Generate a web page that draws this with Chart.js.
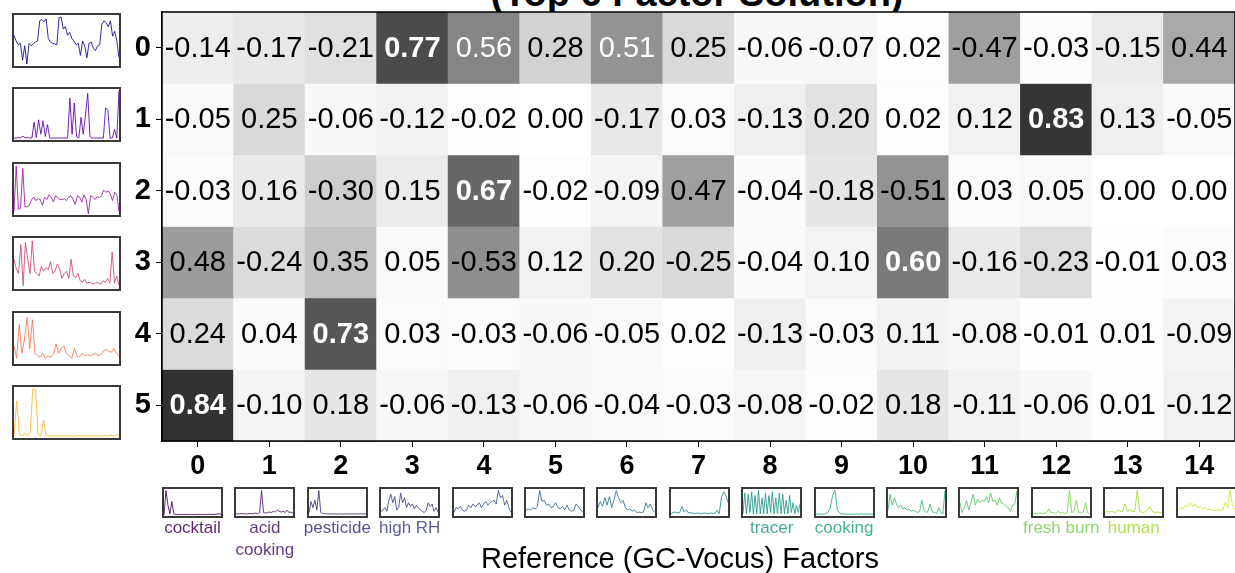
<!DOCTYPE html>
<html lang="en">
<head>
<meta charset="UTF-8">
<title>Factor correlation (Top 6 Factor Solution)</title>
<script src="https://cdn.jsdelivr.net/npm/chart.js@4.4.1/dist/chart.umd.min.js"></script>
<style>
  html, body { margin: 0; padding: 0; background: #fff; overflow: hidden; }
  body { width: 1235px; height: 573px; position: relative; font-family: "Liberation Sans", Arial, sans-serif; }
  .title { position: absolute; top: -26px; left: 347px; width: 700px; text-align: center; font-size: 38px; font-weight: bold; line-height: 38px; white-space: nowrap; }
  .xtitle { position: absolute; top: 542px; left: 330px; width: 700px; text-align: center; font-size: 29px; line-height: 32px; white-space: nowrap; }
  #main { position: absolute; left: 0; top: 0; width: 1235px; height: 573px; }
  .thumb { position: absolute; box-sizing: border-box; border: 2px solid #3a3a3a; background: #fff; }
  .thumb canvas { display: block; }
  .reflabel { position: absolute; top: 517px; width: 110px; text-align: center; font-size: 17px; line-height: 22px; opacity: 0.85; }
</style>
</head>
<body>

<div class="title">(Top 6 Factor Solution)</div>
<div id="main"><canvas id="heat"></canvas></div>
<div class="xtitle">Reference (GC-Vocus) Factors</div>

<script>
// ---- data ----
var rowNames = ['0', '1', '2', '3', '4', '5'];
var colNames = ['0', '1', '2', '3', '4', '5', '6', '7', '8', '9', '10', '11', '12', '13', '14'];

var row0 = [-0.14, -0.17, -0.21, 0.77, 0.56, 0.28, 0.51, 0.25, -0.06, -0.07, 0.02, -0.47, -0.03, -0.15, 0.44];
var row1 = [-0.05, 0.25, -0.06, -0.12, -0.02, 0.00, -0.17, 0.03, -0.13, 0.20, 0.02, 0.12, 0.83, 0.13, -0.05];
var row2 = [-0.03, 0.16, -0.30, 0.15, 0.67, -0.02, -0.09, 0.47, -0.04, -0.18, -0.51, 0.03, 0.05, 0.00, 0.00];
var row3 = [0.48, -0.24, 0.35, 0.05, -0.53, 0.12, 0.20, -0.25, -0.04, 0.10, 0.60, -0.16, -0.23, -0.01, 0.03];
var row4 = [0.24, 0.04, 0.73, 0.03, -0.03, -0.06, -0.05, 0.02, -0.13, -0.03, 0.11, -0.08, -0.01, 0.01, -0.09];
var row5 = [0.84, -0.10, 0.18, -0.06, -0.13, -0.06, -0.04, -0.03, -0.08, -0.02, 0.18, -0.11, -0.06, 0.01, -0.12];
var rows = [row0, row1, row2, row3, row4, row5];

var refLabels = ['cocktail', 'acid<br>cooking', 'pesticide', 'high RH', '', '', '', '', 'tracer', 'cooking', '', '', 'fresh burn', 'human', ''];

// time series thumbnails, solution factors (left)
var sol0 = [0.62, 0.5, 0.42, 0.45, 0.1, 0.4, 0.02, 0.45, 0.4, 0.44, 0.48, 0.5, 0.92, 0.95, 0.9, 0.96, 0.55, 0.48, 0.45, 0.44, 0.42, 0.98, 1.0, 0.75, 0.8, 0.62, 0.68, 0.55, 0.5, 0.42, 0.45, 0.2, 0.5, 0.4, 0.15, 0.45, 0.48, 0.35, 0.3, 0.4, 0.42, 0.85, 0.92, 0.88, 0.8, 0.92, 0.6, 0.7, 0.5, 0.15];
var sol1 = [0.02, 0.02, 0.03, 0.02, 0.06, 0.02, 0.03, 0.02, 0.02, 0.35, 0.03, 0.4, 0.1, 0.38, 0.05, 0.3, 0.02, 0.02, 0.02, 0.02, 0.02, 0.02, 0.02, 0.02, 0.02, 0.85, 0.1, 0.75, 0.05, 0.02, 0.45, 0.1, 0.5, 0.95, 0.05, 0.02, 0.02, 0.02, 0.02, 0.02, 0.02, 0.65, 0.6, 0.02, 0.02, 0.2, 0.02, 1.0];
var sol2 = [0.05, 1.0, 0.1, 0.12, 0.95, 0.15, 0.15, 0.18, 0.3, 0.35, 0.28, 0.32, 0.3, 0.18, 0.35, 0.3, 0.4, 0.35, 0.25, 0.38, 0.34, 0.3, 0.3, 0.32, 0.28, 0.35, 0.38, 0.3, 0.2, 0.38, 0.35, 0.25, 0.4, 0.3, 0.0, 0.38, 0.35, 0.3, 0.36, 0.34, 0.38, 0.5, 0.45, 0.48, 0.42, 0.28, 0.45, 0.4, 0.05];
var sol3 = [0.6, 0.4, 0.3, 0.9, 0.05, 0.95, 0.6, 0.3, 0.98, 0.35, 0.3, 0.25, 0.45, 0.35, 0.42, 0.38, 0.55, 0.3, 0.35, 0.5, 0.4, 0.2, 0.3, 0.35, 0.2, 0.6, 0.25, 0.22, 0.3, 0.15, 0.12, 0.18, 0.1, 0.12, 0.1, 0.08, 0.12, 0.1, 0.08, 0.15, 0.12, 0.2, 0.1, 0.75, 0.1, 0.25, 0.05];
var sol4 = [0.35, 0.1, 0.8, 0.2, 0.5, 0.95, 0.3, 0.9, 0.2, 0.15, 0.12, 0.2, 0.1, 0.15, 0.12, 0.18, 0.4, 0.2, 0.3, 0.35, 0.2, 0.15, 0.1, 0.3, 0.15, 0.12, 0.2, 0.15, 0.17, 0.15, 0.18, 0.2, 0.16, 0.17, 0.25, 0.28, 0.25, 0.22, 0.3, 0.2, 0.15];
var sol5 = [0.02, 0.75, 0.05, 0.02, 0.08, 0.02, 0.1, 1.0, 0.98, 0.05, 0.02, 0.35, 0.02, 0.02, 0.02, 0.02, 0.02, 0.02, 0.02, 0.02, 0.02, 0.02, 0.02, 0.02, 0.03, 0.02, 0.02, 0.02, 0.02, 0.02, 0.02, 0.02, 0.02, 0.02, 0.03, 0.02, 0.04, 0.02, 0.05, 0.02];
var solSeries = [sol0, sol1, sol2, sol3, sol4, sol5];

// time series thumbnails, reference factors (bottom)
var ref0 = [0.0, 1.0, 0.4, 0.05, 0.55, 0.05, 0.02, 0.02, 0.02, 0.03, 0.02, 0.02, 0.02, 0.03, 0.02, 0.02, 0.02, 0.02, 0.03, 0.02, 0.02, 0.02, 0.02, 0.03, 0.02, 0.02, 0.02, 0.04, 0.05, 0.03];
var ref1 = [0.05, 0.04, 0.05, 0.06, 0.05, 0.04, 0.05, 0.06, 0.05, 0.06, 0.08, 0.05, 0.1, 1.0, 0.1, 0.08, 0.1, 0.12, 0.1, 0.15, 0.12, 0.2, 0.15, 0.12, 0.15, 0.1, 0.2, 0.1, 0.12, 0.08];
var ref2 = [0.1, 0.55, 0.3, 0.6, 0.2, 1.0, 0.1, 0.06, 0.05, 0.05, 0.04, 0.05, 0.04, 0.05, 0.04, 0.04, 0.05, 0.04, 0.04, 0.05, 0.04, 0.04, 0.05, 0.04, 0.05, 0.04, 0.05, 0.04, 0.05, 0.04];
var ref3 = [0.15, 0.2, 0.3, 0.15, 0.6, 0.85, 0.5, 0.75, 0.2, 0.3, 0.9, 0.5, 0.7, 0.3, 0.5, 0.35, 0.45, 0.25, 0.4, 0.3, 0.2, 0.15, 0.1, 0.2, 0.5, 0.35, 0.45, 0.15, 0.3, 0.1];
var ref4 = [0.1, 0.3, 0.25, 0.35, 0.2, 0.15, 0.2, 0.4, 0.3, 0.45, 0.35, 0.4, 0.5, 0.3, 0.45, 0.55, 0.4, 0.5, 0.55, 0.6, 0.45, 1.0, 0.7, 0.8, 0.4, 0.6, 0.3, 0.1];
var ref5 = [0.2, 0.25, 0.2, 0.3, 0.25, 0.35, 1.0, 0.55, 0.6, 0.4, 0.45, 0.3, 0.35, 0.5, 0.3, 0.25, 0.35, 0.2, 0.4, 0.2, 0.15, 0.2, 0.45, 0.35, 0.2, 0.1];
var ref6 = [0.3, 0.55, 0.35, 0.7, 0.4, 0.75, 0.3, 0.6, 1.0, 0.7, 0.5, 0.6, 0.3, 0.2, 0.25, 0.15, 0.2, 0.1, 0.12, 0.1, 0.12, 0.5, 0.3, 0.45, 0.2, 0.1];
var ref7 = [0.05, 0.1, 0.12, 0.08, 0.1, 0.35, 0.12, 0.2, 0.08, 0.1, 0.07, 0.06, 0.08, 0.07, 0.06, 0.08, 0.07, 0.06, 0.08, 0.07, 0.06, 0.2, 0.05, 0.7, 0.95, 0.8, 0.5];
var ref8 = [0.05, 0.9, 0.05, 0.85, 0.1, 0.95, 0.05, 0.8, 0.05, 1.0, 0.05, 0.7, 0.05, 0.9, 0.05, 0.8, 0.1, 0.95, 0.05, 0.7, 0.05, 0.9, 0.05, 0.85, 0.05, 0.6, 0.05, 0.8, 0.1, 0.5, 0.05, 0.4, 0.1, 0.45];
var ref9 = [0.05, 0.03, 0.04, 0.03, 0.05, 0.1, 0.3, 0.8, 1.0, 0.2, 0.08, 0.05, 0.03, 0.04, 0.03, 0.04, 0.03, 0.04, 0.03, 0.05, 0.03, 0.04, 0.03, 0.04, 0.03];
var ref10 = [0.2, 0.85, 0.4, 0.7, 0.45, 0.3, 0.4, 0.25, 0.3, 0.2, 0.25, 0.15, 0.2, 0.15, 0.1, 0.15, 0.6, 0.2, 0.1, 0.15, 0.45, 0.12, 0.1, 0.05, 0.3, 0.1, 0.05, 1.0];
var ref11 = [0.5, 0.1, 0.3, 0.6, 0.2, 0.5, 0.85, 0.4, 0.65, 0.5, 0.6, 0.55, 0.75, 0.5, 0.9, 0.55, 0.6, 0.4, 0.7, 0.5, 0.45, 0.35, 0.3, 0.15, 0.4, 0.45, 1.0];
var ref12 = [0.05, 0.06, 0.05, 0.08, 0.05, 0.06, 0.1, 0.25, 0.08, 0.1, 0.06, 0.15, 0.08, 0.1, 0.06, 0.1, 1.0, 0.1, 0.15, 0.6, 0.1, 0.08, 0.12, 0.5, 0.08, 0.05];
var ref13 = [0.1, 0.15, 0.12, 0.15, 0.1, 0.2, 0.15, 0.12, 0.45, 0.15, 0.2, 0.15, 0.12, 1.0, 0.15, 0.1, 0.12, 0.2, 0.35, 0.15, 0.1, 0.12, 0.1, 0.12];
var ref14 = [0.2, 0.3, 0.25, 0.4, 0.35, 0.5, 0.35, 0.45, 0.3, 0.35, 0.25, 0.3, 0.2, 0.25, 0.2, 0.18, 0.2, 0.22, 0.2, 0.5, 0.3, 1.0, 0.4, 0.2];
var refSeries = [ref0, ref1, ref2, ref3, ref4, ref5, ref6, ref7, ref8, ref9, ref10, ref11, ref12, ref13, ref14];

// ---- colour maps ----
var greysStops = ['#ffffff', '#f0f0f0', '#d9d9d9', '#bdbdbd', '#969696', '#737373', '#525252', '#252525', '#000000'];
var viridisStops = ['#440154', '#482475', '#414487', '#355f8d', '#2a788e', '#21918c', '#22a884', '#44bf70', '#7ad151', '#bddf26', '#fde725'];
var plasmaStops = ['#0d0887', '#41049d', '#6a00a8', '#8f0da4', '#b12a90', '#cc4778', '#e16462', '#f2844b', '#fca636', '#fcce25', '#f0f921'];

function hexRgb(h) {
  return [parseInt(h.substr(1, 2), 16), parseInt(h.substr(3, 2), 16), parseInt(h.substr(5, 2), 16)];
}
function cmap(stops, t, alpha) {
  t = Math.max(0, Math.min(1, t));
  var p = t * (stops.length - 1);
  var i = Math.min(Math.floor(p), stops.length - 2);
  var f = p - i;
  var a = hexRgb(stops[i]), b = hexRgb(stops[i + 1]);
  var c = a.map(function (v, k) { return Math.round(v + (b[k] - v) * f); });
  return 'rgba(' + c[0] + ',' + c[1] + ',' + c[2] + ',' + (alpha == null ? 1 : alpha) + ')';
}

Chart.defaults.font.family = '"Liberation Sans", Arial, sans-serif';
Chart.defaults.color = '#000';

// ---- heatmap ----
var datasets = rows.map(function (vals, r) {
  return {
    label: rowNames[r],
    data: vals.map(function () { return [r, r + 1]; }),
    backgroundColor: vals.map(function (v) { return cmap(greysStops, Math.abs(v)); }),
    borderWidth: 0,
    barPercentage: 1,
    categoryPercentage: 1,
    grouped: false
  };
});

// write the numbers in the cells
var cellText = {
  id: 'cellText',
  afterDatasetsDraw: function (chart) {
    var ctx = chart.ctx, xs = chart.scales.x, ys = chart.scales.y;
    ctx.save();
    ctx.textAlign = 'center';
    ctx.textBaseline = 'middle';
    rows.forEach(function (vals, r) {
      var max = Math.max.apply(null, vals);
      vals.forEach(function (v, c) {
        var bold = v === max;
        ctx.font = (bold ? 'bold ' : '') + '29px "Liberation Sans", Arial, sans-serif';
        ctx.fillStyle = v > 0.5 ? '#fff' : '#000';
        ctx.fillText(v.toFixed(2), xs.getPixelForValue(c), ys.getPixelForValue(r + 0.5) + 1);
      });
    });
    ctx.restore();
  },
  afterDraw: function (chart) {
    var a = chart.chartArea, ctx = chart.ctx;
    ctx.save();
    ctx.strokeStyle = '#000';
    ctx.lineWidth = 1.5;
    ctx.strokeRect(a.left, a.top, a.right - a.left, a.bottom - a.top);
    ctx.restore();
  }
};

new Chart(document.getElementById('heat'), {
  type: 'bar',
  data: { labels: colNames, datasets: datasets },
  options: {
    responsive: true,
    maintainAspectRatio: false,
    animation: false,
    layout: { padding: { top: 12, right: 0, left: 0, bottom: 0 } },
    plugins: { legend: { display: false }, tooltip: { enabled: false } },
    scales: {
      x: {
        afterFit: function (s) { s.height = 132; s.paddingLeft = 0; s.paddingRight = 0; },
        grid: { offset: false, drawOnChartArea: false, color: '#000', tickLength: 6 },
        border: { color: '#000', width: 1.5 },
        ticks: { font: { size: 27, weight: 'bold' }, color: '#000', padding: 3, maxRotation: 0 }
      },
      y: {
        min: 0,
        max: 6,
        reverse: true,
        afterFit: function (s) { s.width = 162; s.paddingTop = 0; s.paddingBottom = 0; },
        afterBuildTicks: function (s) {
          s.ticks = rowNames.map(function (n, i) { return { value: i + 0.5 }; });
        },
        grid: { drawOnChartArea: false, color: '#000', tickLength: 6 },
        border: { color: '#000', width: 1.5 },
        ticks: {
          font: { size: 29, weight: 'bold' },
          color: '#000',
          padding: 5,
          callback: function (v) { return rowNames[Math.floor(v)]; }
        }
      }
    }
  },
  plugins: [cellText]
});

// ---- thumbnails ----
function thumb(series, color, left, top, w, h) {
  var box = document.createElement('div');
  box.className = 'thumb';
  box.style.left = left + 'px';
  box.style.top = top + 'px';
  box.style.width = w + 'px';
  box.style.height = h + 'px';
  var cv = document.createElement('canvas');
  cv.width = w - 4;
  cv.height = h - 4;
  box.appendChild(cv);
  document.body.appendChild(box);
  new Chart(cv, {
    type: 'line',
    data: {
      labels: series.map(function (_, i) { return i; }),
      datasets: [{ data: series, borderColor: color, borderWidth: 1, pointRadius: 0, tension: 0, fill: false }]
    },
    options: {
      responsive: false,
      animation: false,
      layout: { padding: { top: 1, bottom: 1, left: 0, right: 0 } },
      plugins: { legend: { display: false }, tooltip: { enabled: false } },
      scales: {
        x: { display: false },
        y: { display: false, min: 0, max: 1.02 }
      }
    }
  });
}

solSeries.forEach(function (s, i) {
  thumb(s, cmap(plasmaStops, i / 6, 0.85), 12, 13 + i * 74.4, 109, 55);
});

refSeries.forEach(function (s, i) {
  var left = 162 + i * 72.4;
  thumb(s, cmap(viridisStops, i / 15, 0.85), left, 487, 61, 31);
  if (refLabels[i]) {
    var lab = document.createElement('div');
    lab.className = 'reflabel';
    lab.style.left = (left + 30.5 - 55) + 'px';
    lab.style.color = cmap(viridisStops, i / 15);
    lab.innerHTML = refLabels[i];
    document.body.appendChild(lab);
  }
});
</script>
</body>
</html>
